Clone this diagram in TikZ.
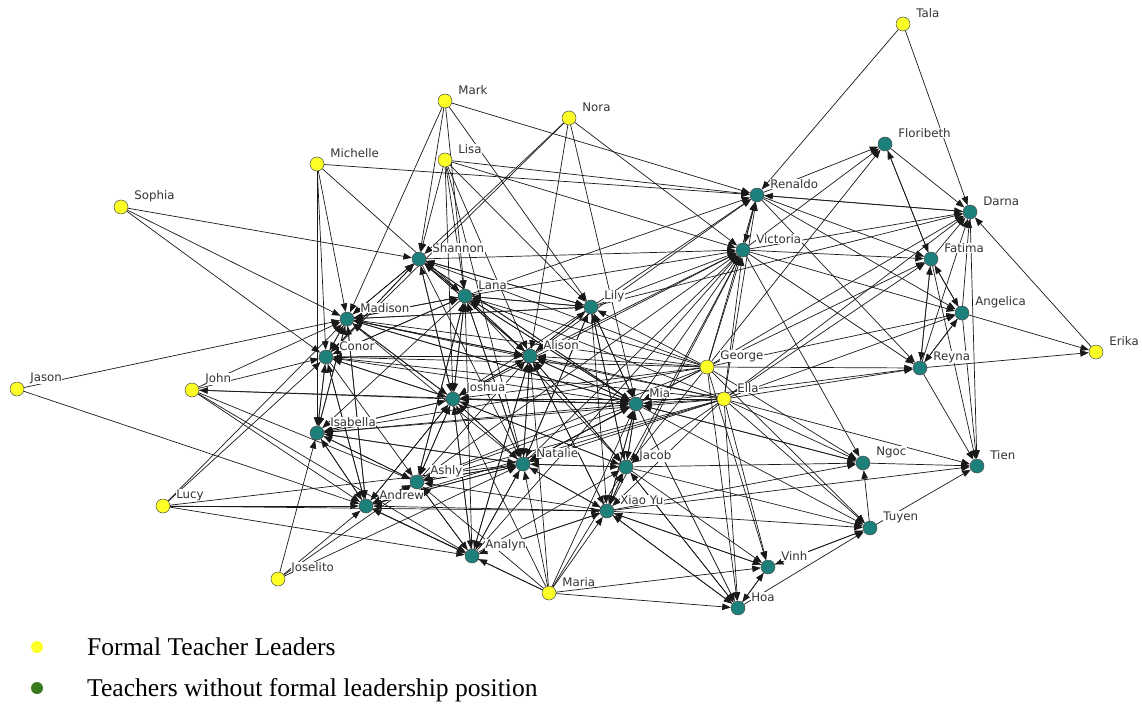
\documentclass[tikz,border=0pt]{standalone}
\usepackage{fontspec}
\setmainfont{Liberation Serif}
\newfontfamily\lblfont{DejaVu Sans}
\usetikzlibrary{arrows.meta}
\pgfdeclarelayer{bg}
\pgfsetlayers{bg,main}
\definecolor{tealnode}{RGB}{30,128,122}
\definecolor{yellownode}{RGB}{255,255,40}
\definecolor{legendgreen}{RGB}{58,122,30}
\tikzset{
  lbl/.style={font=\lblfont\fontsize{11.8}{12}\selectfont, text=black!80, inner sep=0.4pt, fill=white, label distance=5.5pt, yshift=11pt},
  leader/.style={circle, draw=black!70, line width=0.5pt, fill=yellownode, minimum size=14pt, inner sep=0pt},
  teacher/.style={circle, draw=black!70, line width=0.5pt, fill=tealnode, minimum size=14pt, inner sep=0pt},
  edge/.style={draw=black!90, line width=0.7pt, -{Triangle[length=8.5pt,width=6.5pt]}},
  legdot/.style={circle, minimum size=12pt, inner sep=0pt},
  legtext/.style={anchor=base west, font=\fontsize{25.6}{28}\selectfont, inner sep=0pt}
}
\begin{document}
\begin{tikzpicture}[x=1pt,y=-1pt]
\useasboundingbox (0,0) rectangle (1142,704);
% leaders
\foreach \n/\x/\y/\t in {Tala/903/24/Tala, Mark/445/101/Mark, Nora/569/118/Nora, Michelle/317/164/Michelle, Lisa/445/160/Lisa, Sophia/121/207/Sophia, George/707/367/George, Erika/1096/352/Erika, John/192/390/John, Jason/17/389/Jason, Ella/724/399/Ella, Lucy/163/506/Lucy, Joselito/278/579/Joselito, Maria/549/593/Maria}
  \node[leader, label={[lbl]0:\t}] (\n) at (\x,\y) {};
% teachers
\foreach \n/\x/\y/\t in {Floribeth/885/144/Floribeth, Renaldo/757/195/Renaldo, Darna/970/212/Darna, Victoria/743/250/Victoria, Shannon/419/259/Shannon, Fatima/931/259/Fatima, Lana/465/296/Lana, Lily/591/307/Lily, Madison/347/319/Madison, Angelica/962/313/Angelica, Alison/530/356/Alison, Conor/326/357/Conor, Reyna/920/368/Reyna, Joshua/453/399/Joshua, Mia/636/404/Mia, Isabella/317/433/Isabella, Ngoc/863/463/Ngoc, Tien/977/466/Tien, Natalie/523/464/Natalie, Jacob/626/467/Jacob, Ashly/417/482/Ashly, Andrew/366/506/Andrew, XiaoYu/607/511/Xiao Yu, Tuyen/870/528/Tuyen, Analyn/472/556/Analyn, Vinh/768/567/Vinh, Hoa/738/608/Hoa}
  \node[teacher, label={[lbl]0:\t}] (\n) at (\x,\y) {};
% connectors
\begin{pgfonlayer}{bg}
\foreach \s/\tl in {
 Tala/{Renaldo,Darna},
 Mark/{Renaldo,Madison,Lana,Lily,Shannon},
 Nora/{Shannon,Conor,Alison,Mia,Victoria},
 Lisa/{Renaldo,Victoria,Shannon,Lana,Joshua,Lily,Alison,Natalie},
 Michelle/{Renaldo,Madison,Conor,Isabella,Lana},
 Sophia/{Shannon,Madison,Conor},
 Jason/{Madison,Andrew},
 John/{Madison,Conor,Mia,Andrew,Ashly,Analyn},
 Lucy/{Madison,Conor,Andrew,Natalie,Analyn,XiaoYu},
 Joselito/{Isabella,Andrew,Ashly,Natalie},
 Maria/{Analyn,Ashly,Andrew,Natalie,Joshua,Jacob,XiaoYu,Alison,Hoa,Vinh,Mia},
 George/{Renaldo,Victoria,Floribeth,Darna,Fatima,Angelica,Reyna,Mia,Alison,Lana,Lily,Shannon,Madison,Conor,Joshua,Natalie,Jacob,Ashly,Vinh,Hoa,Tuyen,Ngoc,Isabella},
 Ella/{Victoria,Renaldo,Darna,Fatima,Angelica,Reyna,Tien,Ngoc,Tuyen,Vinh,Hoa,Mia,Jacob,XiaoYu,Natalie,Ashly,Andrew,Joshua,Conor,Isabella,Alison,Lana,Madison},
 Erika/{Darna},
 Renaldo/{Darna,Floribeth,Fatima,Reyna,Angelica,Victoria},
 Victoria/{Renaldo,Darna,Fatima,Angelica,Reyna,Floribeth,Ngoc},
 Floribeth/{Darna,Fatima},
 Fatima/{Floribeth,Darna,Angelica,Reyna,Tien},
 Angelica/{Darna,Fatima,Reyna,Tien,Erika},
 Reyna/{Fatima,Angelica,Darna,Tien,Erika},
 Darna/{Renaldo,Tien},
 Shannon/{Lana,Madison,Alison,Joshua,Lily,Mia,Natalie,Victoria,Conor},
 Lana/{Shannon,Madison,Alison,Lily,Joshua,Mia,Jacob,Natalie,Ashly,Conor,Isabella,Victoria,Renaldo},
 Lily/{Alison,Mia,Lana,Shannon,Natalie,Jacob,Victoria,Renaldo,Darna,Joshua,Madison,XiaoYu},
 Madison/{Conor,Lana,Shannon,Alison,Joshua,Mia,Lily,Isabella,Andrew},
 Conor/{Madison,Shannon,Lana,Alison,Joshua,Mia,Isabella,Andrew,Ashly},
 Alison/{Lana,Shannon,Lily,Madison,Conor,Mia,Joshua,Natalie,Jacob,XiaoYu,Victoria,Analyn,Renaldo},
 Joshua/{Madison,Conor,Lana,Shannon,Alison,Mia,Natalie,Jacob,Ashly,Andrew,Isabella,Analyn,John,Victoria},
 Mia/{Alison,Lily,Lana,Shannon,Joshua,Madison,Victoria,Natalie,Jacob,XiaoYu,Ngoc,Tuyen,Reyna,Hoa},
 Isabella/{Conor,Madison,Joshua,Andrew,Ashly,Natalie,Mia},
 Natalie/{Alison,Joshua,Lana,Mia,Lily,Ashly,Andrew,Analyn,Jacob,XiaoYu,Isabella,Madison,Victoria},
 Jacob/{Mia,Alison,Lily,Natalie,XiaoYu,Joshua,Victoria,Ngoc,Tuyen,Hoa,Vinh},
 Ashly/{Andrew,Natalie,Joshua,Alison,Lana,Mia,Isabella,Analyn,Victoria},
 Andrew/{Ashly,Isabella,Conor,Madison,Joshua,Analyn,Natalie},
 XiaoYu/{Jacob,Natalie,Mia,Alison,Analyn,Andrew,Ashly,Vinh,Hoa,Tuyen,Tien,Ngoc,Victoria},
 Tuyen/{Tien,Vinh,Ngoc},
 Analyn/{Andrew,Ashly,Natalie,Joshua,Lana,Alison,XiaoYu,Jacob,Victoria},
 Vinh/{Tuyen,Hoa,XiaoYu},
 Hoa/{Vinh,Tuyen,XiaoYu,Jacob},
 Ngoc/{Tien,Mia}}
 {\foreach \t in \tl {\draw[edge] (\s) -- (\t);}}
\end{pgfonlayer}
% legend
\node[legdot, fill=yellownode] (ly) at (37,647) {};
\node[legdot, fill=legendgreen] (lg) at (37,688) {};
\node[legtext] (lyt) at (87,655) {Formal Teacher Leaders};
\node[legtext] (lgt) at (87,696) {Teachers without formal leadership position};
\end{tikzpicture}
\end{document}
